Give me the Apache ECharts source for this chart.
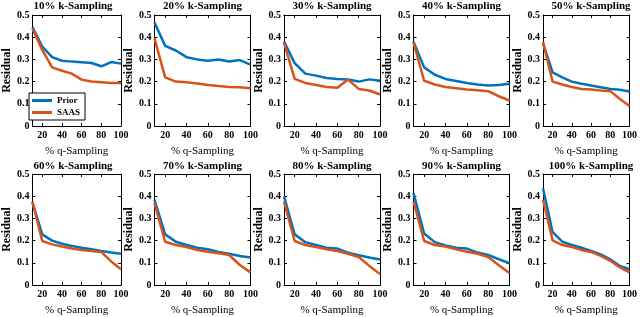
<!DOCTYPE html>
<html><head><meta charset="utf-8">
<script src="https://cdn.jsdelivr.net/npm/echarts@6/dist/echarts.min.js"></script>
<style>html,body{margin:0;padding:0;background:#fff}#c{width:640px;height:317px}</style>
</head><body><div id="c"></div>
<script>
const qSampling = [10, 20, 30, 40, 50, 60, 70, 80, 90, 100];
const panelTitles = ['10% k-Sampling','20% k-Sampling','30% k-Sampling','40% k-Sampling','50% k-Sampling',
  '60% k-Sampling','70% k-Sampling','80% k-Sampling','90% k-Sampling','100% k-Sampling'];
const xTicks = [20, 40, 60, 80, 100];
const yTicks = [0, 0.1, 0.2, 0.3, 0.4, 0.5];

const prior10  = [0.446, 0.358, 0.31, 0.294, 0.29, 0.287, 0.284, 0.269, 0.288, 0.281];
const saas10   = [0.438, 0.343, 0.264, 0.249, 0.236, 0.209, 0.2, 0.197, 0.194, 0.194];
const prior20  = [0.466, 0.361, 0.34, 0.31, 0.30, 0.294, 0.30, 0.291, 0.297, 0.276];
const saas20   = [0.395, 0.219, 0.2, 0.197, 0.191, 0.185, 0.18, 0.176, 0.175, 0.17];
const prior30  = [0.38, 0.283, 0.236, 0.227, 0.216, 0.212, 0.209, 0.2, 0.21, 0.204];
const saas30   = [0.376, 0.212, 0.194, 0.185, 0.176, 0.172, 0.209, 0.167, 0.16, 0.142];
const prior40  = [0.38, 0.264, 0.231, 0.212, 0.203, 0.194, 0.187, 0.182, 0.185, 0.19];
const saas40   = [0.376, 0.204, 0.187, 0.176, 0.17, 0.164, 0.161, 0.157, 0.134, 0.115];
const prior50  = [0.373, 0.242, 0.219, 0.2, 0.19, 0.182, 0.175, 0.167, 0.163, 0.155];
const saas50   = [0.378, 0.2, 0.187, 0.176, 0.167, 0.164, 0.16, 0.157, 0.122, 0.09];
const prior60  = [0.372, 0.228, 0.2, 0.186, 0.176, 0.168, 0.161, 0.153, 0.146, 0.141];
const saas60   = [0.376, 0.198, 0.183, 0.173, 0.164, 0.158, 0.153, 0.149, 0.106, 0.071];
const prior70  = [0.384, 0.228, 0.195, 0.18, 0.168, 0.161, 0.149, 0.141, 0.131, 0.124];
const saas70   = [0.369, 0.195, 0.18, 0.171, 0.158, 0.15, 0.143, 0.135, 0.09, 0.057];
const prior80  = [0.399, 0.228, 0.193, 0.18, 0.168, 0.164, 0.146, 0.134, 0.124, 0.115];
const saas80   = [0.376, 0.198, 0.18, 0.171, 0.161, 0.153, 0.141, 0.126, 0.086, 0.049];
const prior90  = [0.414, 0.232, 0.193, 0.178, 0.168, 0.164, 0.146, 0.135, 0.116, 0.098];
const saas90   = [0.376, 0.198, 0.18, 0.173, 0.161, 0.15, 0.141, 0.126, 0.089, 0.054];
const prior100 = [0.436, 0.238, 0.195, 0.18, 0.168, 0.153, 0.138, 0.116, 0.086, 0.071];
const saas100  = [0.384, 0.201, 0.18, 0.171, 0.158, 0.149, 0.131, 0.109, 0.079, 0.057];

const priorAll = [prior10, prior20, prior30, prior40, prior50, prior60, prior70, prior80, prior90, prior100];
const saasAll  = [saas10, saas20, saas30, saas40, saas50, saas60, saas70, saas80, saas90, saas100];

const BLUE = '#0072BD', ORANGE = '#D95319';
const FONT = '"Liberation Serif", "Times New Roman", serif';

const grids = [], xAxes = [], yAxes = [], series = [], titles = [];
for (let i = 0; i < 10; i++) {
  const col = i % 5, row = Math.floor(i / 5);
  const left = 25 + col * 129.5;
  const top = row === 0 ? 15 : 174;
  const height = row === 0 ? 111 : 112;
  grids.push({left: left, top: top, width: 96, height: height, show: false});
  titles.push({text: panelTitles[i], left: left + 48, top: row === 0 ? 1 : 161, textAlign: 'center',
    padding: 0,
    textStyle: {fontFamily: FONT, fontWeight: 'bold', fontSize: 11, color: '#000'}});
  const lineSt = {show: true, onZero: false, lineStyle: {color: '#000', width: 1}};
  xAxes.push({type: 'value', gridIndex: i, min: 10, max: 100, position: 'bottom',
    name: '% q-Sampling', nameLocation: 'middle', nameGap: 20,
    nameTextStyle: {fontFamily: FONT, fontSize: 11, color: '#000'},
    axisLine: lineSt,
    axisTick: {show: true, inside: true, length: 3, customValues: xTicks, lineStyle: {color: '#000'}},
    axisLabel: {customValues: xTicks, margin: 4, fontFamily: FONT, fontWeight: 'bold', fontSize: 10, color: '#000'},
    splitLine: {show: false}});
  xAxes.push({type: 'value', gridIndex: i, min: 10, max: 100, position: 'top',
    axisLine: lineSt,
    axisTick: {show: true, inside: true, length: 3, customValues: xTicks, lineStyle: {color: '#000'}},
    axisLabel: {show: false}, splitLine: {show: false}});
  yAxes.push({type: 'value', gridIndex: i, min: 0, max: 0.5, interval: 0.1, position: 'left',
    name: 'Residual', nameLocation: 'middle', nameGap: 16, nameRotate: 90,
    nameTextStyle: {fontFamily: FONT, fontSize: 12, color: '#000', fontWeight: 'bold'},
    axisLine: lineSt,
    axisTick: {show: true, inside: true, length: 3, lineStyle: {color: '#000'}},
    axisLabel: {margin: 3, fontFamily: FONT, fontWeight: 'bold', fontSize: 10, color: '#000',
      formatter: v => (v === 0 ? '0' : v.toFixed(1))},
    splitLine: {show: false}});
  yAxes.push({type: 'value', gridIndex: i, min: 0, max: 0.5, interval: 0.1, position: 'right',
    axisLine: lineSt,
    axisTick: {show: true, inside: true, length: 3, lineStyle: {color: '#000'}},
    axisLabel: {show: false}, splitLine: {show: false}});
  series.push({name: 'Prior', type: 'line', xAxisIndex: 2 * i, yAxisIndex: 2 * i,
    data: qSampling.map((q, k) => [q, priorAll[i][k]]), showSymbol: false, symbol: 'none',
    lineStyle: {color: BLUE, width: 2.5}, itemStyle: {color: BLUE}, z: 3, silent: true});
  series.push({name: 'SAAS', type: 'line', xAxisIndex: 2 * i, yAxisIndex: 2 * i,
    data: qSampling.map((q, k) => [q, saasAll[i][k]]), showSymbol: false, symbol: 'none',
    lineStyle: {color: ORANGE, width: 2.5}, itemStyle: {color: ORANGE}, z: 4, silent: true});
}

const chart = echarts.init(document.getElementById('c'), null, {renderer: 'canvas'});
chart.setOption({
  animation: false,
  backgroundColor: '#fff',
  title: titles,
  grid: grids,
  xAxis: xAxes,
  yAxis: yAxes,
  series: series,
  legend: {
    data: ['Prior', 'SAAS'], orient: 'vertical', left: 29, top: 93,
    backgroundColor: '#fff', borderColor: '#000', borderWidth: 1,
    padding: [3, 5, 3, 3], itemGap: 3, itemWidth: 20, itemHeight: 3, icon: 'rect',
    textStyle: {fontFamily: FONT, fontWeight: 'bold', fontSize: 9, color: '#000'},
    selectedMode: false
  }
});
</script></body></html>
